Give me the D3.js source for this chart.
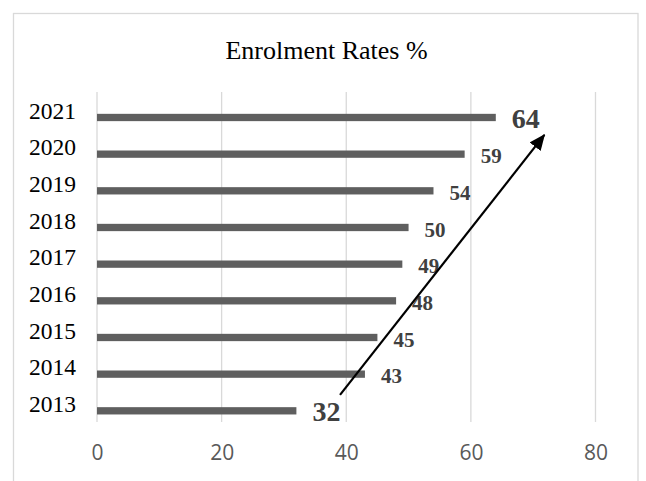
<!DOCTYPE html>
<html>
<head>
<meta charset="utf-8">
<script src="https://cdn.jsdelivr.net/npm/d3@7"></script>
<style>
	body { margin: 0; background: #fff; }
	svg { display: block; }
</style>
</head>
<body>
<div id="chart"></div>
<script>
// chart data
var years = ['2013', '2014', '2015', '2016', '2017', '2018', '2019', '2020', '2021'];
var rates = [32, 43, 45, 48, 49, 50, 54, 59, 64];
var xTicks = [0, 20, 40, 60, 80];
var chartTitle = 'Enrolment Rates %';
// the arrow runs from just above the 2013 label to just below 2021
var arrowStart = [39, 0.24];
var arrowEnd = [71.8, 7.33];

var width = 646, height = 481;

var svg = d3.select('#chart').append('svg')
	.attr('width', width)
	.attr('height', height);

// chart area border (bottom edge is off the picture)
svg.append('rect')
	.attr('x', 13.5)
	.attr('y', 13.5)
	.attr('width', 624.5)
	.attr('height', 490)
	.attr('fill', 'none')
	.attr('stroke', '#d9d9d9')
	.attr('stroke-width', 1.3);

svg.append('text')
	.attr('x', 326.5)
	.attr('y', 59)
	.attr('text-anchor', 'middle')
	.style('font-family', '"Liberation Serif", "Times New Roman", serif')
	.style('font-size', '26px')
	.attr('fill', '#000')
	.text(chartTitle);

var x = d3.scaleLinear()
	.domain([0, 80])
	.range([97, 595.5]);

// top row is 2021, so reverse the categories
var y = d3.scaleBand()
	.domain(years.slice().reverse())
	.range([92, 422]);

// row index (0 = 2013) to pixel centre, used for the arrow
var yIdx = d3.scaleLinear()
	.domain([0, years.length - 1])
	.range([y('2013') + y.bandwidth() / 2, y('2021') + y.bandwidth() / 2]);

// gridlines
svg.append('g')
	.selectAll('line')
	.data(xTicks)
	.enter()
	.append('line')
	.attr('x1', function(d){ return x(d); })
	.attr('x2', function(d){ return x(d); })
	.attr('y1', 92)
	.attr('y2', 422)
	.attr('stroke', '#d9d9d9')
	.attr('stroke-width', 1.3);

// bottom axis, labels only
var xAxis = svg.append('g')
	.attr('transform', 'translate(0,445)')
	.call(d3.axisBottom(x).tickValues(xTicks).tickSize(0).tickPadding(0));
xAxis.select('.domain').remove();
xAxis.selectAll('text')
	.attr('dy', '0.71em')
	.style('font-family', '"Open Sans", sans-serif')
	.style('font-size', '21px')
	.attr('fill', '#595959');

// year labels
var yAxis = svg.append('g')
	.attr('transform', 'translate(76,0)')
	.call(d3.axisLeft(y).tickSize(0).tickPadding(0));
yAxis.select('.domain').remove();
yAxis.selectAll('text')
	.attr('dy', '0.35em')
	.style('font-family', '"Liberation Serif", "Times New Roman", serif')
	.style('font-size', '23.5px')
	.attr('fill', '#000');

var barH = 7.3;
var barOffset = 3.5; // bars sit a little under the row centre

svg.append('g')
	.selectAll('rect')
	.data(rates)
	.enter()
	.append('rect')
	.attr('x', x(0))
	.attr('y', function(d, i){ return y(years[i]) + y.bandwidth() / 2 + barOffset; })
	.attr('width', function(d){ return x(d) - x(0); })
	.attr('height', barH)
	.attr('fill', '#5f5f5f');

// value labels, first and last ones bigger
svg.append('g')
	.selectAll('text')
	.data(rates)
	.enter()
	.append('text')
	.attr('x', function(d){ return x(d) + 16; })
	.attr('y', function(d, i){
		var c = y(years[i]) + y.bandwidth() / 2 + barOffset + barH / 2;
		var big = (i == 0 || i == rates.length - 1);
		return c + (big ? 10.5 : 9.2);
	})
	.style('font-family', '"Liberation Serif", "Times New Roman", serif')
	.style('font-weight', 'bold')
	.style('font-size', function(d, i){
		return (i == 0 || i == rates.length - 1) ? '28px' : '21px';
	})
	.attr('fill', '#404040')
	.text(function(d){ return d; });

// arrow
svg.append('defs').append('marker')
	.attr('id', 'arrowHead')
	.attr('markerUnits', 'userSpaceOnUse')
	.attr('markerWidth', 16)
	.attr('markerHeight', 14)
	.attr('refX', 15)
	.attr('refY', 7)
	.attr('orient', 'auto')
	.append('path')
	.attr('d', 'M0,0 L16,7 L0,14 Z')
	.attr('fill', '#000');

svg.append('line')
	.attr('x1', x(arrowStart[0]))
	.attr('y1', yIdx(arrowStart[1]))
	.attr('x2', x(arrowEnd[0]))
	.attr('y2', yIdx(arrowEnd[1]))
	.attr('stroke', '#000')
	.attr('stroke-width', 2.2)
	.attr('marker-end', 'url(#arrowHead)');
</script>
</body>
</html>
